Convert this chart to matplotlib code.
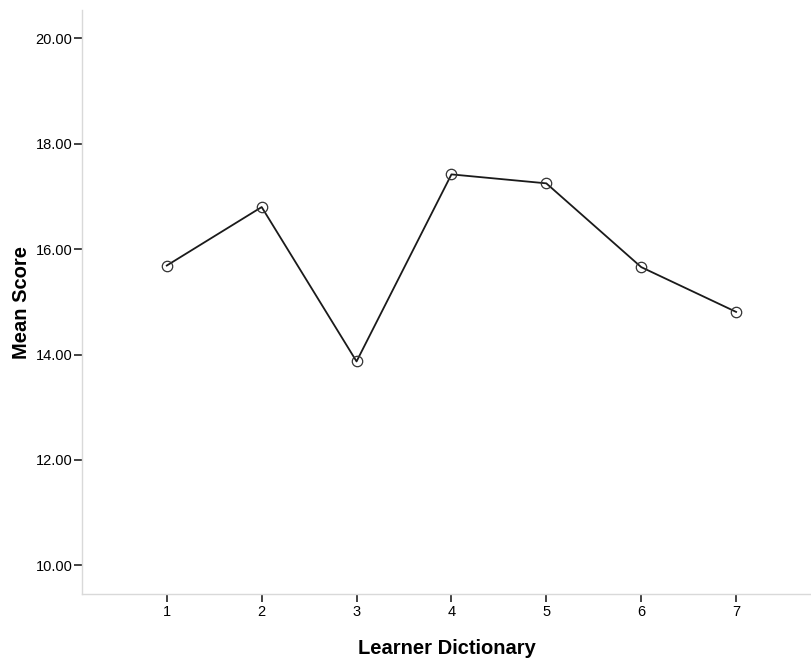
import matplotlib
matplotlib.use("Agg")
import matplotlib.pyplot as plt

# Mittelwerte je Wörterbuch
dictionaries = [1, 2, 3, 4, 5, 6, 7]
mean_scores = [15.69, 16.80, 13.87, 17.42, 17.25, 15.66, 14.81]
y_ticks = [10, 12, 14, 16, 18, 20]
y_tick_labels = ["10.00", "12.00", "14.00", "16.00", "18.00", "20.00"]

plt.rcParams['font.family'] = ['Liberation Sans', 'DejaVu Sans']

fig = plt.figure(figsize=(8.12, 6.58), dpi=100)
ax = fig.add_axes([0.1014, 0.0968, 0.8986, 0.888])

ax.plot(dictionaries, mean_scores, color='#1a1a1a', linewidth=1.3,
        marker='o', markersize=7.5, markerfacecolor='none',
        markeredgecolor='#333333', markeredgewidth=0.9)

ax.set_xlim(0.11, 7.8)
ax.set_ylim(9.45, 20.54)
ax.set_xticks(dictionaries)
ax.set_yticks(y_ticks)
ax.set_yticklabels(y_tick_labels)

for side in ['top', 'right']:
    ax.spines[side].set_visible(False)
for side in ['left', 'bottom']:
    ax.spines[side].set_color('#d9d9d9')
    ax.spines[side].set_linewidth(1.0)

ax.tick_params(axis='y', length=6, width=1.2, color='#222222', labelsize=10.5, pad=1)
ax.tick_params(axis='x', length=6, width=1.2, color='#222222', labelsize=10.5, pad=2)

ax.set_xlabel('Learner Dictionary', fontsize=14.5, fontweight='bold', labelpad=14)
ax.set_ylabel('Mean Score', fontsize=14.5, fontweight='bold', labelpad=3.5)

fig.savefig('out.png', dpi=100)
